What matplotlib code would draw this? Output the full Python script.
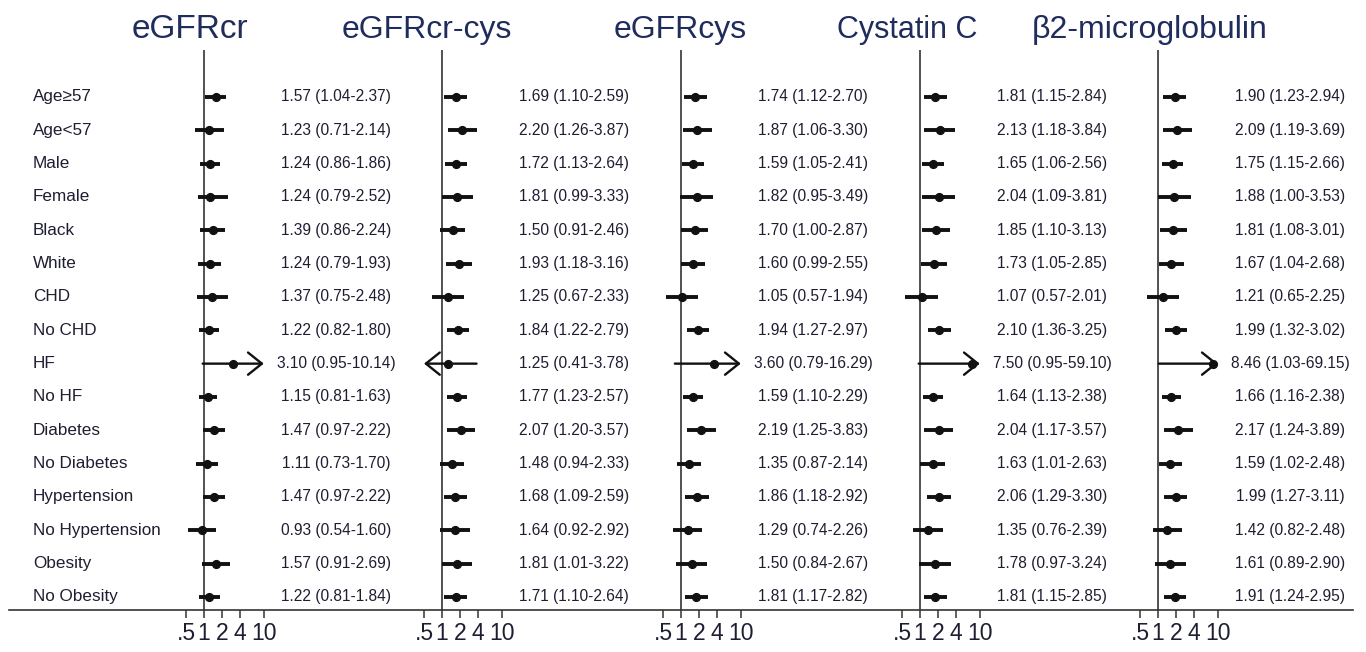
import matplotlib
matplotlib.use("Agg")
import matplotlib.pyplot as plt
from matplotlib.transforms import blended_transform_factory

plt.rcParams['font.family'] = ['Liberation Sans', 'DejaVu Sans']

rows = ["Age\u226557", "Age<57", "Male", "Female", "Black", "White", "CHD", "No CHD",
        "HF", "No HF", "Diabetes", "No Diabetes", "Hypertension", "No Hypertension",
        "Obesity", "No Obesity"]

titles = ["eGFRcr", "eGFRcr-cys", "eGFRcys", "Cystatin C", "\u03b22-microglobulin"]

hr_cr = [1.57, 1.23, 1.24, 1.24, 1.39, 1.24, 1.37, 1.22, 3.10, 1.15, 1.47, 1.11, 1.47, 0.93, 1.57, 1.22]
lo_cr = [1.04, 0.71, 0.86, 0.79, 0.86, 0.79, 0.75, 0.82, 0.95, 0.81, 0.97, 0.73, 0.97, 0.54, 0.91, 0.81]
hi_cr = [2.37, 2.14, 1.86, 2.52, 2.24, 1.93, 2.48, 1.80, 10.14, 1.63, 2.22, 1.70, 2.22, 1.60, 2.69, 1.84]

hr_crcys = [1.69, 2.20, 1.72, 1.81, 1.50, 1.93, 1.25, 1.84, 1.25, 1.77, 2.07, 1.48, 1.68, 1.64, 1.81, 1.71]
lo_crcys = [1.10, 1.26, 1.13, 0.99, 0.91, 1.18, 0.67, 1.22, 0.41, 1.23, 1.20, 0.94, 1.09, 0.92, 1.01, 1.10]
hi_crcys = [2.59, 3.87, 2.64, 3.33, 2.46, 3.16, 2.33, 2.79, 3.78, 2.57, 3.57, 2.33, 2.59, 2.92, 3.22, 2.64]

hr_cys = [1.74, 1.87, 1.59, 1.82, 1.70, 1.60, 1.05, 1.94, 3.60, 1.59, 2.19, 1.35, 1.86, 1.29, 1.50, 1.81]
lo_cys = [1.12, 1.06, 1.05, 0.95, 1.00, 0.99, 0.57, 1.27, 0.79, 1.10, 1.25, 0.87, 1.18, 0.74, 0.84, 1.17]
hi_cys = [2.70, 3.30, 2.41, 3.49, 2.87, 2.55, 1.94, 2.97, 16.29, 2.29, 3.83, 2.14, 2.92, 2.26, 2.67, 2.82]

hr_cysc = [1.81, 2.13, 1.65, 2.04, 1.85, 1.73, 1.07, 2.10, 7.50, 1.64, 2.04, 1.63, 2.06, 1.35, 1.78, 1.81]
lo_cysc = [1.15, 1.18, 1.06, 1.09, 1.10, 1.05, 0.57, 1.36, 0.95, 1.13, 1.17, 1.01, 1.29, 0.76, 0.97, 1.15]
hi_cysc = [2.84, 3.84, 2.56, 3.81, 3.13, 2.85, 2.01, 3.25, 59.10, 2.38, 3.57, 2.63, 3.30, 2.39, 3.24, 2.85]

hr_b2m = [1.90, 2.09, 1.75, 1.88, 1.81, 1.67, 1.21, 1.99, 8.46, 1.66, 2.17, 1.59, 1.99, 1.42, 1.61, 1.91]
lo_b2m = [1.23, 1.19, 1.15, 1.00, 1.08, 1.04, 0.65, 1.32, 1.03, 1.16, 1.24, 1.02, 1.27, 0.82, 0.89, 1.24]
hi_b2m = [2.94, 3.69, 2.66, 3.53, 3.01, 2.68, 2.25, 3.02, 69.15, 2.38, 3.89, 2.48, 3.11, 2.48, 2.90, 2.95]

xticks = [0.5, 1, 2, 4, 10]
xticklabels = [".5", "1", "2", "4", "10"]

series = [(hr_cr, lo_cr, hi_cr), (hr_crcys, lo_crcys, hi_crcys), (hr_cys, lo_cys, hi_cys),
          (hr_cysc, lo_cysc, hi_cysc), (hr_b2m, lo_b2m, hi_b2m)]

# ---- layout (pixels) ----
W, H = 1366, 652
centers = [204, 442, 681, 920, 1158]   # pixel position of HR = 1
title_x = [190, 427, 680, 907, 1150]
title_sz = [24, 23, 23, 22, 23]
ppl2 = 18.0                             # pixels per doubling
left_px, width_px = 45, 225
text_px = 132
top_px, bot_px = 50, 610
row0_px, row_step = 97, 33.33
clip_lo, clip_hi = 0.5, 10

title_col = '#1f2c5c'
text_col = '#1e1e32'
line_col = '#111111'

fig = plt.figure(figsize=(W / 100, H / 100), dpi=100)

# background axis for the long bottom line
bg = fig.add_axes([9 / W, (H - bot_px) / H, (1353 - 9) / W, (bot_px - top_px) / H])
bg.set_xticks([]); bg.set_yticks([])
for s in ['top', 'left', 'right']:
    bg.spines[s].set_visible(False)
bg.spines['bottom'].set_linewidth(1.2)
bg.spines['bottom'].set_color('#333333')
bg.patch.set_alpha(0)

ylo = (bot_px - row0_px) / row_step
yhi = (top_px - row0_px) / row_step
ypos = list(range(len(rows)))

axes = []
for i, (hr, lo, hi) in enumerate(series):
    c = centers[i]
    ax = fig.add_axes([(c - left_px) / W, (H - bot_px) / H, width_px / W, (bot_px - top_px) / H])
    ax.patch.set_alpha(0)
    ax.set_xscale('log')
    ax.set_xlim(2 ** (-left_px / ppl2), 2 ** ((width_px - left_px) / ppl2))
    ax.set_ylim(ylo, yhi)
    for s in ax.spines.values():
        s.set_visible(False)
    ax.set_yticks([])
    ax.set_xticks(xticks)
    ax.set_xticklabels(xticklabels)
    ax.minorticks_off()
    ax.tick_params(axis='x', direction='out', length=6, width=1.1, color='#333333',
                   labelsize=16.5, pad=3, labelcolor=text_col)
    ax.axvline(1, color='#333333', lw=1.2, zorder=1)

    for k in ypos:
        l, h, p = lo[k], hi[k], hr[k]
        if l < clip_lo or h > clip_hi:
            a = max(l, clip_lo)
            b = min(h, clip_hi)
            if l < clip_lo and h > clip_hi:
                style = '<->'
            elif l < clip_lo:
                style = '<-'
            else:
                style = '->'
            ax.annotate('', xy=(b, k), xytext=(a, k),
                        arrowprops=dict(arrowstyle=style + ',head_length=0.5,head_width=0.4',
                                        lw=1.7, color=line_col, shrinkA=0, shrinkB=0,
                                        mutation_scale=20), zorder=3)
        else:
            ax.plot([l, h], [k, k], color=line_col, lw=2.8, solid_capstyle='butt', zorder=3)
        ax.plot([p], [k], 'o', color=line_col, ms=5.6, zorder=4)
        ax.text((text_px + left_px) / width_px, k, f"{p:.2f} ({l:.2f}-{h:.2f})",
                transform=blended_transform_factory(ax.transAxes, ax.transData),
                ha='center', va='center', fontsize=11.2, color=text_col)
    axes.append(ax)

    fig.text(title_x[i] / W, 1 - 38 / H, titles[i], ha='center', va='baseline',
             fontsize=title_sz[i], color=title_col)

tr = blended_transform_factory(fig.transFigure, axes[0].transData)
for k in ypos:
    axes[0].text(33 / W, k, rows[k], transform=tr, ha='left', va='center',
                 fontsize=12.3, color=text_col)

fig.savefig("out.png", dpi=100)
